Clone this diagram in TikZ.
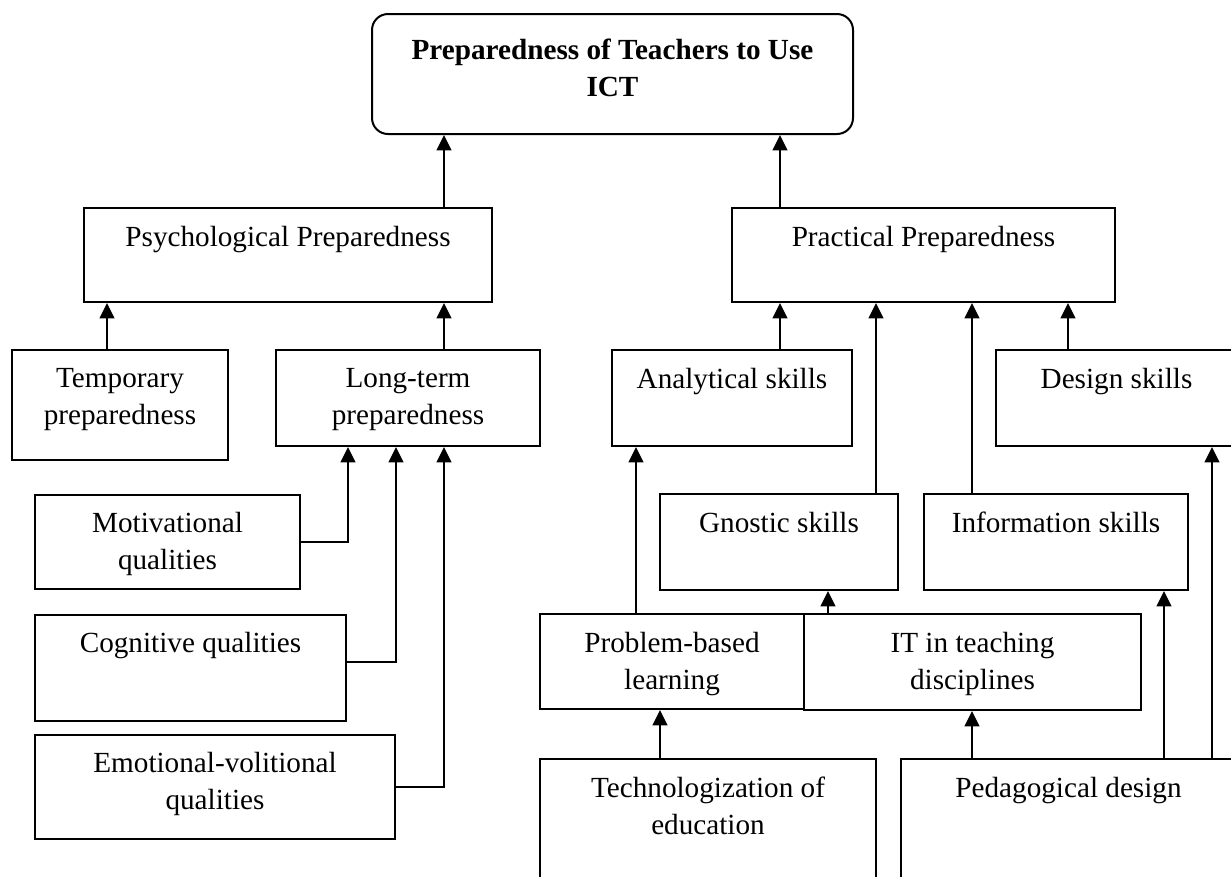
\documentclass[tikz,border=0pt]{standalone}
\usepackage{fontspec}
\setmainfont{Liberation Serif}
\usetikzlibrary{fit,calc,arrows.meta}
\begin{document}
\begin{tikzpicture}[x=0.75pt,y=-0.75pt,
  box/.style={draw, line width=1.5pt, inner sep=0pt, rectangle},
  rbox/.style={box, rounded corners=12pt},
  txt/.style={font=\fontsize{21.9}{27.75}\selectfont, align=center, inner sep=0pt, anchor=base},
  arr/.style={line width=1.5pt, -{Triangle[width=11pt,length=11.5pt]}}]
\useasboundingbox (0,0) rectangle (1231,876);
\clip (0,0) rectangle (1231,876);
% boxes
\node[rbox, fit={(372,14) (853,134)}] (top) {};
\node[box, fit={(84,208) (492,302)}] (psy) {};
\node[box, fit={(732,208) (1115,302)}] (prac) {};
\node[box, fit={(12,350) (228,460)}] (temp) {};
\node[box, fit={(276,350) (540,446)}] (long) {};
\node[box, fit={(35,495) (300,589)}] (mot) {};
\node[box, fit={(35,615) (346,721)}] (cog) {};
\node[box, fit={(35,735) (395,839)}] (emo) {};
\node[box, fit={(612,350) (852,446)}] (ana) {};
\node[box, fit={(996,350) (1237,446)}] (des) {};
\node[box, fit={(660,494) (898,590)}] (gno) {};
\node[box, fit={(924,494) (1188,590)}] (inf) {};
\node[box, fit={(540,614) (804,709)}] (pbl) {};
\node[box, fit={(804,614) (1141,710)}] (itd) {};
\node[box, fit={(540,759) (876,900)}] (tech) {};
\node[box, fit={(901,759) (1236,900)}] (ped) {};
% texts (base anchor = baseline of last line)
\node[txt] (ttop) at ($(top.north)+(0,83)$) {\textbf{Preparedness of Teachers to Use}\\\textbf{ICT}};
\node[txt] (tpsy) at ($(psy.north)+(0,39)$) {Psychological Preparedness};
\node[txt] (tprac) at ($(prac.north)+(0,39)$) {Practical Preparedness};
\node[txt] (ttemp) at ($(temp.north)+(0,75)$) {Temporary\\preparedness};
\node[txt] (tlong) at ($(long.north)+(0,75)$) {Long-term\\preparedness};
\node[txt] (tmot) at ($(mot.north)+(0,75)$) {Motivational\\qualities};
\node[txt] (tcog) at ($(cog.north)+(0,38)$) {Cognitive qualities};
\node[txt] (temo) at ($(emo.north)+(0,75)$) {Emotional-volitional\\qualities};
\node[txt] (tana) at ($(ana.north)+(0,39)$) {Analytical skills};
\node[txt] (tdes) at ($(des.north)+(0,39)$) {Design skills};
\node[txt] (tgno) at ($(gno.north)+(0,39)$) {Gnostic skills};
\node[txt] (tinf) at ($(inf.north)+(0,39)$) {Information skills};
\node[txt] (tpbl) at ($(pbl.north)+(0,76)$) {Problem-based\\learning};
\node[txt] (titd) at ($(itd.north)+(0,76)$) {IT in teaching\\disciplines};
\node[txt] (ttech) at ($(tech.north)+(0,76)$) {Technologization of\\education};
\node[txt] (tped) at ($(ped.north)+(0,39)$) {Pedagogical design};
% columns
\coordinate (c107) at (107,0);
\coordinate (c348) at (348,0);
\coordinate (c396) at (396,0);
\coordinate (c444) at (444,0);
\coordinate (c636) at (636,0);
\coordinate (c660) at (660,0);
\coordinate (c780) at (780,0);
\coordinate (c828) at (828,0);
\coordinate (c876) at (876,0);
\coordinate (c972) at (972,0);
\coordinate (c1068) at (1068,0);
\coordinate (c1164) at (1164,0);
\coordinate (c1212) at (1212,0);
\coordinate (r662) at (0,662);
% connectors
\draw[arr] (psy.north -| c444) -- (top.south -| c444);
\draw[arr] (prac.north -| c780) -- (top.south -| c780);
\draw[arr] (temp.north -| c107) -- (psy.south -| c107);
\draw[arr] (long.north -| c444) -- (psy.south -| c444);
\draw[arr] (mot.east) -| (long.south -| c348);
\draw[arr] (cog.east |- r662) -| (long.south -| c396);
\draw[arr] (emo.east) -| (long.south -| c444);
\draw[arr] (ana.north -| c780) -- (prac.south -| c780);
\draw[arr] (gno.north -| c876) -- (prac.south -| c876);
\draw[arr] (inf.north -| c972) -- (prac.south -| c972);
\draw[arr] (des.north -| c1068) -- (prac.south -| c1068);
\draw[arr] (pbl.north -| c636) -- (ana.south -| c636);
\draw[arr] (itd.north -| c828) -- (gno.south -| c828);
\draw[arr] (tech.north -| c660) -- (pbl.south -| c660);
\draw[arr] (ped.north -| c972) -- (itd.south -| c972);
\draw[arr] (ped.north -| c1164) -- (inf.south -| c1164);
\draw[arr] (ped.north -| c1212) -- (des.south -| c1212);
\end{tikzpicture}
\end{document}
